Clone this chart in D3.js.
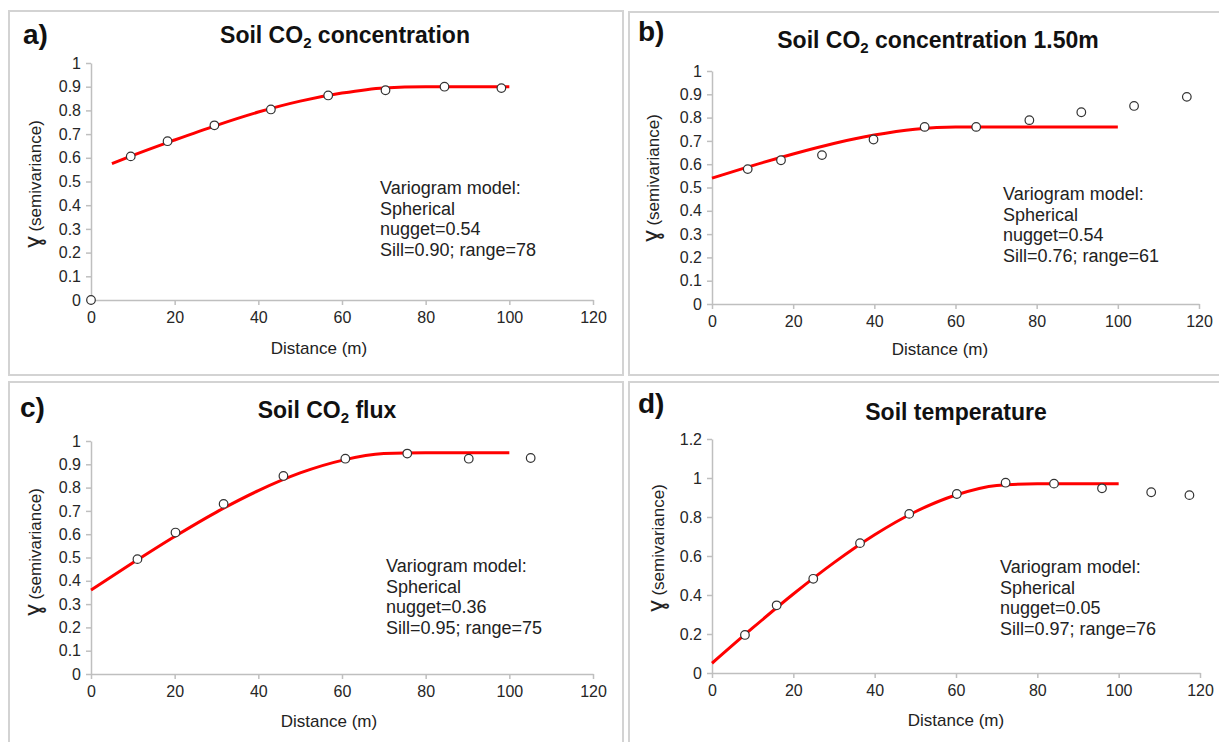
<!DOCTYPE html>
<html>
<head>
<meta charset="utf-8">
<script src="https://cdn.jsdelivr.net/npm/d3@7"></script>
<style>
  body { margin: 0; background: #fff; }
  svg { display: block; font-family: "Liberation Sans", Arial, sans-serif; }
  .axis .domain, .axis line { stroke: #bfbfbf; stroke-width: 1.5; }
  .axis text { font-size: 16px; fill: #262626; font-family: "Liberation Sans", Arial, sans-serif; }
</style>
</head>
<body>
<svg id="chart" width="1219" height="742"></svg>
<script>
'use strict';

// panel texts
var panelLetters = ['a)', 'b)', 'c)', 'd)'];
var titleHead = ['Soil CO', 'Soil CO', 'Soil CO', 'Soil temperature'];
var titleSub = ['2', '2', '2', ''];
var titleTail = [' concentration', ' concentration 1.50m', ' flux', ''];
var xLabel = 'Distance (m)';
var yLabelSym = '\u0263';
var yLabel = ' (semivariance)';

// ticks
var xTicks = [0, 20, 40, 60, 80, 100, 120];
var yTicks = [0, 0.1, 0.2, 0.3, 0.4, 0.5, 0.6, 0.7, 0.8, 0.9, 1];
var yTicksD = [0, 0.2, 0.4, 0.6, 0.8, 1, 1.2];

// experimental semivariance (points)
var lagA = [0, 9.5, 18.3, 29.5, 43.0, 56.7, 70.4, 84.5, 98.1];
var gammaA = [0, 0.606, 0.670, 0.737, 0.804, 0.863, 0.885, 0.900, 0.894];
var lagB = [8.8, 17.0, 27.1, 39.8, 52.4, 65.1, 78.2, 91.0, 104.0, 117.0];
var gammaB = [0.579, 0.617, 0.639, 0.706, 0.760, 0.760, 0.789, 0.823, 0.850, 0.889];
var lagC = [11.1, 20.2, 31.7, 46.0, 60.8, 75.6, 90.3, 105.1];
var gammaC = [0.493, 0.607, 0.730, 0.850, 0.924, 0.946, 0.924, 0.927];
var lagD = [8.1, 15.9, 24.9, 36.4, 48.5, 60.2, 72.2, 84.1, 95.9, 108.0, 117.4];
var gammaD = [0.195, 0.347, 0.483, 0.666, 0.816, 0.918, 0.976, 0.971, 0.947, 0.927, 0.912];

// fitted model (red line)
var fitLagA = [5, 10, 20, 30, 40, 50, 60, 70, 80, 90, 100];
var fitA = [0.575, 0.610, 0.675, 0.737, 0.793, 0.839, 0.873, 0.895, 0.900, 0.900, 0.900];
var fitLag = [0, 10, 20, 30, 40, 50, 60, 70, 80, 90, 100];
var fitB = [0.540, 0.594, 0.644, 0.689, 0.725, 0.750, 0.760, 0.760, 0.760, 0.760, 0.760];
var fitC = [0.360, 0.477, 0.590, 0.695, 0.787, 0.863, 0.917, 0.946, 0.950, 0.950, 0.950];
var fitD = [0.050, 0.231, 0.405, 0.566, 0.709, 0.827, 0.913, 0.962, 0.970, 0.970, 0.970];

// model notes
var noteA = ['Variogram model:', 'Spherical', 'nugget=0.54', 'Sill=0.90; range=78'];
var noteB = ['Variogram model:', 'Spherical', 'nugget=0.54', 'Sill=0.76; range=61'];
var noteC = ['Variogram model:', 'Spherical', 'nugget=0.36', 'Sill=0.95; range=75'];
var noteD = ['Variogram model:', 'Spherical', 'nugget=0.05', 'Sill=0.97; range=76'];

var panels = [
	{ lag: lagA, gamma: gammaA, fx: fitLagA, fy: fitA, note: noteA, yt: yTicks, ymax: 1,
		box: [9, 11, 614, 364], x0: 91, x1: 593, y0: 300, y1: 63,
		letter: [23, 44], title: [345, 43], notePos: [380, 194], xl: [319, 354], yl: [41, 184] },
	{ lag: lagB, gamma: gammaB, fx: fitLag, fy: fitB, note: noteB, yt: yTicks, ymax: 1,
		box: [629, 12, 610, 363], x0: 712, x1: 1199, y0: 304, y1: 71,
		letter: [638, 41], title: [938, 48], notePos: [1003, 200], xl: [940, 355], yl: [659, 178] },
	{ lag: lagC, gamma: gammaC, fx: fitLag, fy: fitC, note: noteC, yt: yTicks, ymax: 1,
		box: [9, 382, 614, 380], x0: 91, x1: 593, y0: 674, y1: 441,
		letter: [20, 417], title: [327, 418], notePos: [386, 572], xl: [329, 727], yl: [41, 552] },
	{ lag: lagD, gamma: gammaD, fx: fitLag, fy: fitD, note: noteD, yt: yTicksD, ymax: 1.2,
		box: [629, 382, 610, 380], x0: 712, x1: 1200, y0: 673, y1: 439,
		letter: [638, 413], title: [956, 420], notePos: [1000, 573], xl: [956, 726], yl: [664, 548] }
];

var svg = d3.select('#chart');
var fmt = function (d) { return String(+d.toFixed(1)); };

panels.forEach(function (p, i) {
	var g = svg.append('g');

	g.append('rect')
		.attr('x', p.box[0]).attr('y', p.box[1])
		.attr('width', p.box[2]).attr('height', p.box[3])
		.attr('fill', 'none').attr('stroke', '#d3d3d3').attr('stroke-width', 2);

	var x = d3.scaleLinear().domain([0, 120]).range([p.x0, p.x1]);
	var y = d3.scaleLinear().domain([0, p.ymax]).range([p.y0, p.y1]);

	g.append('g').attr('class', 'axis')
		.attr('transform', 'translate(0,' + p.y0 + ')')
		.call(d3.axisBottom(x).tickValues(xTicks).tickFormat(fmt).tickSize(5).tickSizeOuter(0).tickPadding(7));

	g.append('g').attr('class', 'axis')
		.attr('transform', 'translate(' + p.x0 + ',0)')
		.call(d3.axisLeft(y).tickValues(p.yt).tickFormat(fmt).tickSize(5).tickSizeOuter(0).tickPadding(5));

	// panel letter
	g.append('text')
		.attr('x', p.letter[0]).attr('y', p.letter[1])
		.attr('font-size', 28).attr('font-weight', 'bold').attr('fill', '#111')
		.text(panelLetters[i]);

	// title with subscript
	var t = g.append('text')
		.attr('x', p.title[0]).attr('y', p.title[1])
		.attr('text-anchor', 'middle')
		.attr('font-size', 23).attr('font-weight', 'bold').attr('fill', '#111');
	t.append('tspan').text(titleHead[i]);
	if (titleSub[i]) {
		t.append('tspan').attr('font-size', 15).attr('dy', 5).text(titleSub[i]);
		t.append('tspan').attr('dy', -5).text(titleTail[i]);
	}

	// axis titles
	g.append('text')
		.attr('x', p.xl[0]).attr('y', p.xl[1])
		.attr('text-anchor', 'middle').attr('font-size', 17).attr('fill', '#222')
		.text(xLabel);

	var yt = g.append('text')
		.attr('transform', 'translate(' + p.yl[0] + ',' + p.yl[1] + ') rotate(-90)')
		.attr('text-anchor', 'middle').attr('font-size', 17).attr('fill', '#222');
	yt.append('tspan').attr('font-size', 23).text(yLabelSym);
	yt.append('tspan').text(yLabel);

	// fitted spherical model
	var fit = p.fx.map(function (d, k) { return [d, p.fy[k]]; });
	g.append('path')
		.datum(fit)
		.attr('fill', 'none').attr('stroke', '#ff0000').attr('stroke-width', 3)
		.attr('d', d3.line()
			.x(function (d) { return x(d[0]); })
			.y(function (d) { return y(d[1]); })
			.curve(d3.curveMonotoneX));

	// experimental points
	var pts = p.lag.map(function (d, k) { return [d, p.gamma[k]]; });
	g.selectAll('circle.pt').data(pts).enter().append('circle')
		.attr('class', 'pt')
		.attr('cx', function (d) { return x(d[0]); })
		.attr('cy', function (d) { return y(d[1]); })
		.attr('r', 4.3)
		.attr('fill', '#fff').attr('stroke', '#333').attr('stroke-width', 1.2);

	// model note
	var n = g.append('text')
		.attr('x', p.notePos[0]).attr('y', p.notePos[1])
		.attr('font-size', 18).attr('fill', '#222');
	p.note.forEach(function (line, k) {
		n.append('tspan').attr('x', p.notePos[0]).attr('dy', k === 0 ? 0 : 20.5).text(line);
	});
});
</script>
</body>
</html>
